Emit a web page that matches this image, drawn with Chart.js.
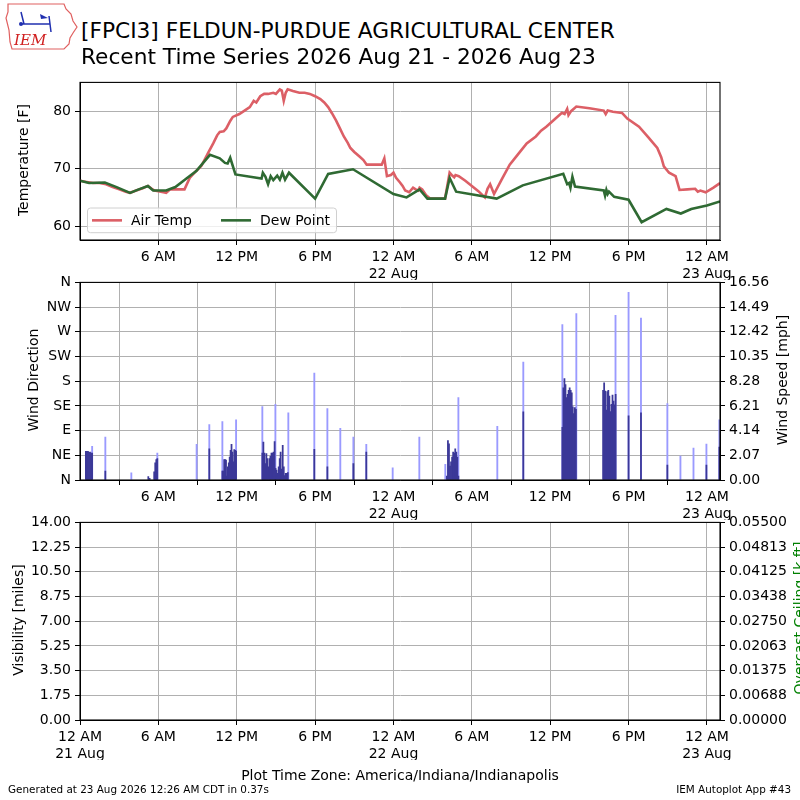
<!DOCTYPE html>
<html>
<head>
<meta charset="utf-8">
<script src="https://cdn.jsdelivr.net/npm/chart.js@4.4.1/dist/chart.umd.min.js"></script>
<style>
    body { margin: 0; width: 800px; height: 800px; position: relative; overflow: hidden; background: #fff; font-family: "DejaVu Sans", sans-serif; }
    canvas { position: absolute; left: 0; }
    .t { position: absolute; white-space: nowrap; color: #000; line-height: 1; }
    .rot { transform: translate(-50%, -50%) rotate(-90deg); font-size: 14px; }
</style>
</head>
<body>
<canvas id="logo" width="80" height="55" style="top:0"></canvas>
<div class="t" style="left:81px;top:20px;font-size:21.7px">[FPCI3] FELDUN-PURDUE AGRICULTURAL CENTER</div>
<div class="t" style="left:81px;top:46px;font-size:21.7px">Recent Time Series 2026 Aug 21 - 2026 Aug 23</div>

<canvas id="temp-chart" width="800" height="210" style="top:70px"></canvas>
<canvas id="wind-chart" width="800" height="250" style="top:270px"></canvas>
<canvas id="vis-chart" width="800" height="250" style="top:510px"></canvas>

<div class="t rot" style="left:23px;top:160px">Temperature [F]</div>
<div class="t rot" style="left:33px;top:380px">Wind Direction</div>
<div class="t rot" style="left:782px;top:380px">Wind Speed [mph]</div>
<div class="t rot" style="left:18px;top:620px">Visibility [miles]</div>
<div class="t rot" style="left:799px;top:618px;color:green">Overcast Ceiling [k ft]</div>

<div class="t" style="left:0;width:800px;text-align:center;top:768px;font-size:14px">Plot Time Zone: America/Indiana/Indianapolis</div>
<div class="t" style="left:8px;top:784px;font-size:10.4px">Generated at 23 Aug 2026 12:26 AM CDT in 0.37s</div>
<div class="t" style="right:9px;top:784px;font-size:10.4px">IEM Autoplot App #43</div>

<script>
// all times are hours since 21 Aug 2026 12 AM (America/Indiana/Indianapolis)

// --- temperature panel ---
const tempHours = [0.0, 0.5, 1.0, 1.5, 2.0, 2.5, 3.0, 3.5, 3.83, 4.3, 4.8, 5.2, 5.5, 5.7, 6.2, 6.6, 6.9, 7.5, 8.0, 8.4,
    8.9, 9.3, 9.8, 10.2, 10.5, 10.7, 11.0, 11.2, 11.5, 11.7, 12.2, 12.6, 13.0, 13.3, 13.5, 13.8, 14.1, 14.4, 14.8, 15.0,
    15.3, 15.45, 15.6, 15.75, 15.9, 16.3, 16.8, 17.2, 17.6, 18.0, 18.4, 18.7, 19.0, 19.3, 19.6, 19.9, 20.2, 20.5, 20.7, 21.0,
    21.4, 21.7, 21.95, 22.5, 23.1, 23.3, 23.5, 23.8, 24.0, 24.2, 24.5, 24.7, 24.9, 25.2, 25.5, 25.7, 25.9, 26.0, 26.2, 26.5,
    26.8, 27.5, 27.95, 28.3, 28.5, 28.65, 28.75, 29.0, 29.5, 30.0, 30.5, 31.0, 31.2, 31.4, 31.7, 32.3, 32.9, 33.5, 34.2, 34.9,
    35.3, 35.7, 36.3, 36.9, 37.1, 37.3, 37.4, 37.6, 38.0, 39.0, 40.1, 40.25, 40.4, 40.8, 41.5, 41.9, 42.8, 43.5, 44.2, 44.5,
    44.7, 45.1, 45.6, 45.9, 46.5, 47.1, 47.3, 47.5, 47.9, 48.5, 49.0];
const airTemp = [67.9, 67.7, 67.5, 67.5, 67.3, 66.8, 66.4, 66.0, 65.8, 66.2, 66.6, 67.0, 66.5, 66.2, 66.0, 65.8, 66.4, 66.4, 66.4, 68.4,
    69.6, 70.5, 72.7, 74.4, 75.8, 76.4, 76.5, 77.0, 78.3, 79.0, 79.5, 80.1, 80.7, 81.8, 81.5, 82.6, 83.0, 83.0, 83.2, 83.0,
    83.8, 83.6, 81.8, 83.2, 83.8, 83.5, 83.2, 83.2, 83.0, 82.6, 82.1, 81.5, 80.7, 79.6, 78.4, 77.0, 75.6, 74.5, 73.6, 72.9,
    72.1, 71.5, 70.7, 70.7, 70.7, 71.8, 68.7, 68.9, 69.3, 68.4, 67.6, 67.0, 66.2, 65.9, 66.7, 66.4, 66.2, 66.7, 66.4, 65.4,
    64.8, 64.8, 64.8, 69.3, 68.8, 68.5, 68.9, 68.7, 67.9, 67.0, 66.1, 65.0, 66.5, 67.3, 65.6, 68.2, 70.7, 72.4, 74.4, 75.6,
    76.6, 77.3, 78.5, 79.7, 79.5, 80.4, 79.3, 80.0, 80.8, 80.5, 80.1, 79.5, 80.1, 79.9, 79.7, 78.7, 77.3, 75.5, 73.6, 72.0,
    70.4, 69.3, 68.7, 66.3, 66.4, 66.5, 66.0, 66.2, 65.9, 66.7, 67.5];

const dewHours = [0.0, 0.7, 1.9, 2.8, 3.83, 4.5, 5.2, 5.6, 6.6, 7.3, 8.1, 8.9, 9.95, 10.7, 11.1, 11.3, 11.5, 11.9, 13.9, 14.0,
    14.2, 14.4, 14.6, 14.8, 15.1, 15.3, 15.5, 15.7, 16.0, 18.0, 19.0, 20.9, 24.0, 25.0, 26.0, 26.6, 27.95, 28.3, 28.8, 31.9,
    33.9, 37.0, 37.3, 37.45, 37.55, 37.7, 37.9, 40.1, 40.2, 40.3, 40.4, 40.5, 40.9, 42.0, 43.0, 44.9, 46.0, 46.8, 48.0, 49.0];
const dewPoint = [67.9, 67.5, 67.6, 66.8, 65.8, 66.4, 67.0, 66.2, 66.2, 66.8, 68.2, 69.6, 72.4, 71.8, 71.0, 70.9, 71.9, 69.0, 68.3, 69.3,
    68.6, 67.3, 68.7, 68.0, 68.8, 68.1, 69.3, 68.1, 69.3, 64.8, 69.1, 69.9, 65.6, 65.0, 66.4, 64.8, 64.8, 68.4, 66.0, 64.8,
    67.1, 69.1, 67.3, 67.5, 66.7, 68.6, 66.9, 66.2, 65.3, 66.3, 65.6, 66.0, 65.1, 64.6, 60.7, 63.0, 62.2, 63.0, 63.6, 64.3];

// --- wind panel (mph) ---
const gustHours = [0.93, 1.94, 3.93, 5.92, 8.93, 9.9, 10.9, 11.95, 13.96, 14.96, 15.95, 17.94, 18.94, 19.93, 20.93, 21.92,
    23.94, 25.98, 27.97, 28.97, 31.95, 33.94, 36.93, 38.0, 41.0, 42.0, 42.95, 44.97, 45.97, 46.97, 47.96, 48.95];
const windGust = [2.82, 3.59, 0.60, 2.26, 2.98, 4.64, 4.89, 5.05, 6.15, 6.35, 5.63, 8.97, 5.99, 4.33, 3.59, 2.98,
    1.02, 3.59, 1.32, 6.90, 4.50, 9.88, 13.03, 13.94, 13.80, 15.73, 13.58, 6.40, 2.01, 2.67, 3.00, 5.05];

const speedHours = [0.45, 0.53, 0.61, 0.69, 0.77, 0.85, 0.93,
    1.94,
    5.23, 5.33, 5.68, 5.76, 5.84, 5.92,
    9.9,
    10.90, 10.97, 11.04, 11.11, 11.18, 11.25, 11.32, 11.39, 11.46, 11.53, 11.60, 11.67, 11.74, 11.81, 11.88, 11.95,
    13.96, 14.04, 14.12, 14.19, 14.27, 14.35, 14.43, 14.51, 14.58, 14.66, 14.74, 14.82, 14.90, 14.97, 15.05, 15.13,
    15.21, 15.29, 15.36, 15.44, 15.52, 15.60, 15.68, 15.75, 15.83, 15.91,
    17.94, 18.94, 20.93, 21.92,
    28.09, 28.17, 28.25, 28.33, 28.41, 28.49, 28.57, 28.65, 28.73, 28.81, 28.89, 28.97,
    33.94,
    36.93, 37.01, 37.09, 37.17, 37.25, 37.33, 37.41, 37.49, 37.57, 37.65, 37.73, 37.81, 37.89, 37.97,
    40.05, 40.13, 40.21, 40.29, 40.37, 40.45, 40.53, 40.61, 40.69, 40.77, 40.85, 40.93, 41.01,
    42.0, 42.95, 44.97, 47.96, 48.95];
const windSpeed = [2.40, 2.40, 2.40, 2.31, 2.35, 2.26, 2.26,
    0.75,
    0.28, 0.14, 0.69, 1.43, 1.71, 1.79,
    2.62,
    0.75, 0.75, 1.71, 1.71, 1.66, 0.33, 1.10, 1.43, 1.93, 2.48, 2.98, 2.35, 1.52, 2.54, 2.48, 2.43,
    2.26, 3.17, 2.26, 1.38, 2.21, 1.79, 1.10, 1.79, 1.99, 2.26, 2.26, 2.35, 3.23, 0.97, 0.83, 0.55,
    1.10, 1.79, 2.35, 0.91, 2.90, 1.10, 0.36, 0.55, 0.55, 0.63,
    2.57, 1.10, 1.38, 2.35,
    0.33, 3.31, 3.04, 1.16, 1.52, 1.93, 2.35, 2.26, 2.62, 2.35, 1.93, 0.33,
    5.71,
    4.41, 7.73, 8.50, 8.00, 6.90, 7.18, 7.51, 7.73, 7.51, 7.31, 6.13, 5.57, 6.07, 5.93,
    7.51, 8.14, 7.45, 5.85, 7.40, 7.51, 7.04, 5.74, 6.35, 7.12, 6.62, 6.29, 7.18,
    5.38, 5.63, 1.24, 1.24, 2.76];

// --- visibility / ceiling panel (no reports in this window) ---
const visHours = [];
const visibility = [];
const ceilingHours = [];
const ceiling = [];

// --- ticks ---
const xTickHours = [0, 6, 12, 18, 24, 30, 36, 42, 48];
const dayLabels = ['21 Aug', '22 Aug', '23 Aug'];
const tempTicks = [60, 70, 80];
const dirTicks = [0, 45, 90, 135, 180, 225, 270, 315, 360];
const dirLabels = ['N', 'NE', 'E', 'SE', 'S', 'SW', 'W', 'NW', 'N'];
const speedTicks = [0, 2.07, 4.14, 6.21, 8.28, 10.35, 12.42, 14.49, 16.56];
const visTicks = [0, 1.75, 3.5, 5.25, 7, 8.75, 10.5, 12.25, 14];
const ceilTicks = [0, 0.006875, 0.01375, 0.020625, 0.0275, 0.034375, 0.04125, 0.048125, 0.055];
const ceilLabels = ['0.00000', '0.00688', '0.01375', '0.02063', '0.02750', '0.03438', '0.04125', '0.04813', '0.05500'];

const GRID = '#b0b0b0';
const FONT = { family: '"DejaVu Sans", sans-serif', size: 14 };

Chart.defaults.font.family = FONT.family;
Chart.defaults.color = '#000';

function toPoints(xs, ys) {
    return xs.map((x, i) => ({ x: x, y: ys[i] }));
}

function timeLabel(h) {
    const hr = h % 24;
    if (hr === 0) return ['12 AM', dayLabels[h / 24]];
    if (hr === 6) return '6 AM';
    if (hr === 12) return '12 PM';
    return '6 PM';
}

function timeAxis(showMidnightStart) {
    return {
        type: 'linear',
        min: 0,
        max: 49,
        offset: false,
        afterBuildTicks: s => {
            s.ticks = xTickHours.filter(h => showMidnightStart || h > 0).map(v => ({ value: v }));
        },
        afterFit: s => { s.height = 40; },
        ticks: { autoSkip: false, maxRotation: 0, padding: 4, font: FONT, callback: v => timeLabel(v) },
        grid: { color: GRID, lineWidth: 1, tickColor: '#000', tickLength: 5 },
        border: { color: '#000', width: 1 }
    };
}

function valueAxis(position, min, max, tickValues, fmt, withGrid) {
    return {
        type: 'linear',
        position: position,
        min: min,
        max: max,
        afterBuildTicks: s => { s.ticks = tickValues.map(v => ({ value: v })); },
        afterFit: s => { s.width = 80; },
        ticks: { autoSkip: false, padding: 4, font: FONT, callback: fmt },
        grid: { color: GRID, lineWidth: 1, tickColor: '#000', tickLength: 5, drawOnChartArea: withGrid },
        border: { color: '#000', width: 1 }
    };
}

// box round the plot area (matplotlib spines)
const framePlugin = {
    id: 'frame',
    afterDraw(chart) {
        const { ctx, chartArea: a } = chart;
        ctx.save();
        ctx.strokeStyle = '#000';
        ctx.lineWidth = 1.1;
        ctx.strokeRect(a.left, a.top, a.right - a.left, a.bottom - a.top);
        ctx.restore();
    }
};

// legend drawn inside the lower left corner of the temperature panel
const insideLegend = {
    id: 'insideLegend',
    afterDatasetsDraw(chart) {
        const { ctx, chartArea: a } = chart;
        const x = a.left + 7.5, y = a.bottom - 32, w = 249, h = 24.7;
        const slots = [4.5, 133.5];
        ctx.save();
        ctx.fillStyle = 'rgba(255,255,255,0.8)';
        ctx.strokeStyle = '#d0d0d0';
        ctx.lineWidth = 1;
        ctx.beginPath();
        ctx.roundRect(x, y, w, h, 3);
        ctx.fill();
        ctx.stroke();
        ctx.font = '14px ' + FONT.family;
        ctx.textBaseline = 'middle';
        const cy = y + h / 2;
        chart.data.datasets.forEach((ds, i) => {
            const sx = x + slots[i];
            ctx.strokeStyle = ds.borderColor;
            ctx.lineWidth = ds.borderWidth;
            ctx.beginPath();
            ctx.moveTo(sx, cy);
            ctx.lineTo(sx + 30, cy);
            ctx.stroke();
            ctx.fillStyle = '#000';
            ctx.fillText(ds.label, sx + 39, cy + 1);
        });
        ctx.restore();
    }
};

function renderTempChart() {
    const ctx = document.getElementById('temp-chart').getContext('2d');
    new Chart(ctx, {
        type: 'line',
        data: {
            datasets: [{
                label: 'Air Temp',
                data: toPoints(tempHours, airTemp),
                borderColor: '#dc5f66',
                borderWidth: 2.6,
                pointRadius: 0,
                order: 2
            }, {
                label: 'Dew Point',
                data: toPoints(dewHours, dewPoint),
                borderColor: '#2f6a33',
                borderWidth: 2.6,
                pointRadius: 0,
                order: 1
            }]
        },
        options: {
            responsive: false,
            animation: false,
            layout: { padding: { top: 10, right: 80, left: 0, bottom: 0 } },
            scales: {
                x: timeAxis(false),
                y: valueAxis('left', 57.6, 85.0, tempTicks, v => v, true)
            },
            plugins: { legend: { display: false }, tooltip: { enabled: false } }
        },
        plugins: [framePlugin, insideLegend]
    });
}

function renderWindChart() {
    const ctx = document.getElementById('wind-chart').getContext('2d');
    new Chart(ctx, {
        type: 'bar',
        data: {
            datasets: [{
                label: 'Wind Speed',
                data: toPoints(speedHours, windSpeed),
                backgroundColor: '#3b3898',
                barThickness: 1.1,
                grouped: false,
                yAxisID: 'speed',
                order: 1
            }, {
                label: 'Wind Gust',
                data: toPoints(gustHours, windGust),
                backgroundColor: '#9a9aff',
                barThickness: 1.2,
                grouped: false,
                yAxisID: 'speed',
                order: 2
            }]
        },
        options: {
            responsive: false,
            animation: false,
            layout: { padding: { top: 10, right: 0, left: 0, bottom: 0 } },
            scales: {
                x: timeAxis(false),
                dir: valueAxis('left', 0, 360, dirTicks, v => dirLabels[dirTicks.indexOf(v)], true),
                speed: valueAxis('right', 0, 16.56, speedTicks, v => v.toFixed(2), false)
            },
            plugins: { legend: { display: false }, tooltip: { enabled: false } }
        },
        plugins: [framePlugin]
    });
}

function renderVisChart() {
    const ctx = document.getElementById('vis-chart').getContext('2d');
    new Chart(ctx, {
        type: 'line',
        data: {
            datasets: [{
                label: 'Visibility',
                data: toPoints(visHours, visibility),
                borderColor: '#000',
                pointRadius: 0,
                yAxisID: 'vis'
            }, {
                label: 'Overcast Ceiling',
                data: toPoints(ceilingHours, ceiling),
                borderColor: 'green',
                pointRadius: 0,
                yAxisID: 'ceil'
            }]
        },
        options: {
            responsive: false,
            animation: false,
            layout: { padding: { top: 10, right: 0, left: 0, bottom: 0 } },
            scales: {
                x: timeAxis(true),
                vis: valueAxis('left', 0, 14, visTicks, v => v.toFixed(2), true),
                ceil: valueAxis('right', 0, 0.055, ceilTicks, v => ceilLabels[ceilTicks.indexOf(v)], false)
            },
            plugins: { legend: { display: false }, tooltip: { enabled: false } }
        },
        plugins: [framePlugin]
    });
}

function drawLogo() {
    const ctx = document.getElementById('logo').getContext('2d');
    // rough state outline
    ctx.strokeStyle = '#e06060';
    ctx.lineWidth = 1.2;
    ctx.beginPath();
    ctx.moveTo(8, 4);
    ctx.lineTo(64, 4);
    ctx.lineTo(66, 9);
    ctx.lineTo(71, 14);
    ctx.lineTo(73, 21);
    ctx.lineTo(77, 27);
    ctx.lineTo(73, 33);
    ctx.lineTo(70, 38);
    ctx.lineTo(69, 44);
    ctx.lineTo(64, 49);
    ctx.lineTo(12, 49);
    ctx.lineTo(10, 42);
    ctx.lineTo(9, 30);
    ctx.lineTo(6, 18);
    ctx.lineTo(8, 12);
    ctx.closePath();
    ctx.stroke();
    // blue instrument mast
    ctx.strokeStyle = '#2030b0';
    ctx.fillStyle = '#2030b0';
    ctx.lineWidth = 1.5;
    ctx.beginPath();
    ctx.moveTo(20, 24); ctx.lineTo(50, 24);
    ctx.moveTo(21, 12); ctx.lineTo(24, 24);
    ctx.moveTo(49, 16); ctx.lineTo(51, 32);
    ctx.stroke();
    ctx.beginPath(); ctx.arc(21, 24, 2, 0, Math.PI * 2); ctx.fill();
    ctx.beginPath(); ctx.moveTo(40, 14); ctx.lineTo(48, 18); ctx.lineTo(41, 19); ctx.closePath(); ctx.fill();
    ctx.fillStyle = '#d02020';
    ctx.font = 'italic 15px "DejaVu Serif", "Liberation Serif", serif';
    ctx.fillText('IEM', 14, 45);
}

document.addEventListener('DOMContentLoaded', () => {
    drawLogo();
    renderTempChart();
    renderWindChart();
    renderVisChart();
});
</script>
</body>
</html>
